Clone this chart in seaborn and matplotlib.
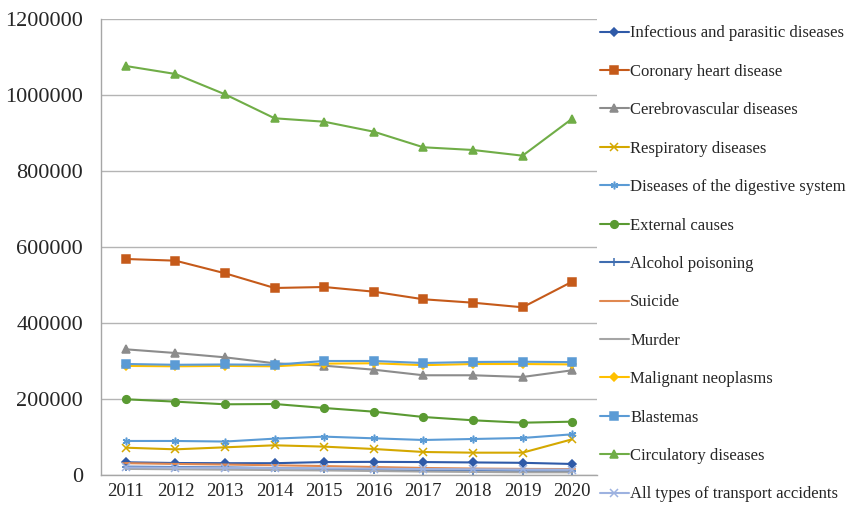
import matplotlib
matplotlib.use('Agg')
import matplotlib.pyplot as plt
from matplotlib.ticker import FuncFormatter
import seaborn as sns
import pandas as pd

years = [2011, 2012, 2013, 2014, 2015, 2016, 2017, 2018, 2019, 2020]

infectious = [33400, 31500, 31000, 31000, 34000, 34500, 34000, 33000, 32000, 29000]
coronary = [568400, 564000, 530800, 492100, 494700, 482400, 462400, 453400, 441300, 508700]
cerebrovascular = [330700, 321000, 309600, 294000, 287600, 277100, 262400, 262400, 257900, 275500]
respiratory = [71800, 67500, 72800, 78100, 74600, 68400, 60500, 58700, 58700, 93900]
digestive = [89500, 89500, 88000, 95600, 100900, 96500, 92100, 94700, 97400, 107000]
external = [199200, 193000, 186000, 186800, 176300, 166600, 152600, 143900, 137600, 140300]
alcohol = [22000, 21000, 20000, 18000, 16000, 13500, 11500, 10500, 9500, 9500]
suicide = [31000, 29000, 27500, 25500, 23500, 21000, 18500, 17000, 16000, 15500]
murder = [16000, 15000, 14000, 13000, 12000, 10500, 9000, 8000, 7000, 7000]
malignant = [287000, 286000, 287000, 286000, 293000, 294000, 289000, 292000, 292000, 291000]
blastemas = [292100, 290000, 290800, 290000, 300000, 300000, 294700, 297400, 298000, 297000]
circulatory = [1076300, 1055300, 1001800, 938700, 929700, 903400, 862400, 855300, 840300, 937600]
transport = [20000, 19500, 19000, 18000, 17500, 16500, 15500, 15000, 14500, 14000]

series = [
    ('Infectious and parasitic diseases', infectious, '#2F5AA8', 'D'),
    ('Coronary heart disease', coronary, '#C55A1A', 's'),
    ('Cerebrovascular diseases', cerebrovascular, '#8C8C8C', '^'),
    ('Respiratory diseases', respiratory, '#D4A800', 'x'),
    ('Diseases of the digestive system', digestive, '#5B9BD5', (6, 2, 0)),
    ('External causes', external, '#5A9A32', 'o'),
    ('Alcohol poisoning', alcohol, '#3F6DB0', '+'),
    ('Suicide', suicide, '#E08850', '_'),
    ('Murder', murder, '#A5A5A5', None),
    ('Malignant neoplasms', malignant, '#FFC000', 'D'),
    ('Blastemas', blastemas, '#5B9BD5', 's'),
    ('Circulatory diseases', circulatory, '#70AD47', '^'),
    ('All types of transport accidents', transport, '#9DB2E0', 'x'),
]

sns.set_style('white')
plt.rcParams['font.family'] = ['Liberation Serif', 'DejaVu Serif']

fig = plt.figure(figsize=(8.54, 5.08), dpi=100)
ax = fig.add_axes([0.1183, 0.065, 0.5807, 0.8976])

for name, vals, color, mk in series:
    df = pd.DataFrame({'year': years, 'value': vals})
    kw = {}
    if mk is not None:
        size = 4.5 if mk == 'D' else 5.5
        kw = dict(marker=mk, markersize=size, markeredgewidth=1.1,
                  markeredgecolor=color)
    sns.lineplot(data=df, x='year', y='value', color=color, linewidth=1.5,
                 label=name, ax=ax, **kw)

ax.set_xlim(2010.5, 2020.5)
ax.set_ylim(0, 1200000)
ax.set_yticks(range(0, 1200001, 200000))
ax.yaxis.set_major_formatter(FuncFormatter(lambda v, p: f'{int(v)}'))
ax.set_xticks(years)
ax.set_xticks([y + 0.5 for y in range(2010, 2021)], minor=True)
ax.tick_params(axis='x', which='major', length=0, labelsize=13.5, pad=6)
ax.tick_params(axis='x', which='minor', length=6, color='#A6A6A6', width=1)
ax.tick_params(axis='y', length=5, color='#A6A6A6', width=1, labelsize=16, pad=8)
ax.yaxis.grid(True, color='#B4B4B4', linewidth=1)
ax.set_axisbelow(True)
ax.set_xlabel('')
ax.set_ylabel('')
for s in ['top', 'right']:
    ax.spines[s].set_visible(False)
for s in ['left', 'bottom']:
    ax.spines[s].set_color('#A6A6A6')
    ax.spines[s].set_linewidth(1)

handles, labels = ax.get_legend_handles_labels()
ax.legend_.remove()
fig.legend(handles, labels, loc='upper left', bbox_to_anchor=(0.695, 0.963),
           frameon=False, fontsize=12, labelspacing=1.345, handlelength=1.7,
           handletextpad=0.1, borderaxespad=0)

fig.savefig('out.png', dpi=100)
